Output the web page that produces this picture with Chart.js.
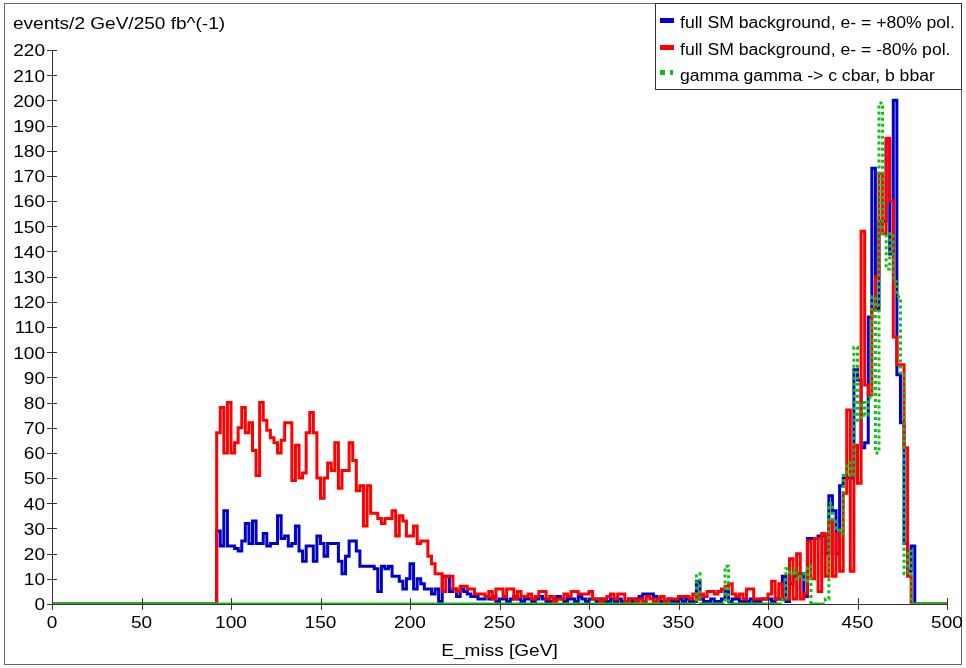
<!DOCTYPE html>
<html><head><meta charset="utf-8">
<script src="https://cdn.jsdelivr.net/npm/chart.js@4/dist/chart.umd.min.js"></script>
<style>html,body{margin:0;padding:0;background:#fff;}#wrap{width:966px;height:668px;}</style>
</head><body><div id="wrap"><canvas id="c" width="966" height="668"></canvas></div>
<script>
// ---- data ----
const binWidthGeV = 2;
const nBins = 250;
const xTickValues = [0, 50, 100, 150, 200, 250, 300, 350, 400, 450, 500];
const yTickValues = [0,10,20,30,40,50,60,70,80,90,100,110,120,130,140,150,160,170,180,190,200,210,220];
const yTitle = 'events/2 GeV/250 fb^(-1)';
const xTitle = 'E_miss [GeV]';
const seriesLabels = ['full SM background, e- = +80% pol.', 'full SM background, e- = -80% pol.', 'gamma gamma -> c cbar, b bbar'];

// counts per 2 GeV bin; bins before the first listed bin and after the last are 0
const blueFirstBin = 46;
const blueCounts = [
 29,23,37,23,23,22,21,25,32,24, 33,24,24,28,23,24,24,35,26,27,
 23,24,31,21,17,23,23,17,27,24, 19,24,24,24,17,12,19,25,25,21,
 15,15,15,15,14,5,15,14,15,11, 11,9,6,10,16,6,10,8,6,6,
 4,6,1,11,11,5,6,
 3,6,5,4,3,3,2,2,3,2, 3,1,2,2,1,2,3,2,1,2, 2,1,2,3,2,1,1,2,3,2,
 1,2,2,1,3,2,1,2,2,1, 2,1,1,2,1,2,1,1,2,1, 2,3,4,4,4,3,2,1,1,2,
 1,1,2,1,2,1,1,9,2,1, 1,2,1,1,2,5,1,2,2,1, 1,1,2,1,1,2,2,
 2,1,2,2,11,1,8,11,12,12, 3,26,26,26,27,27,20,43,37,20,
 47,50,50,50,93,89,62,64,114,173, 117,152,152,184,139,200,91,72,24,13,23
];
const redFirstBin = 46;
const redCounts = [
 68,78,60,80,60,64,70,78,68,72, 61,51,80,73,69,66,64,60,65,72,
 72,49,63,50,52,68,76,68,50,42, 50,56,53,64,46,53,53,64,57,45,
 47,31,47,36,36,34,32,34,34,37, 27,35,33,27,27,31,24,25,25,19,
 16,12,12,5,11,11,6,
 5,7,7,6,6,4,4,4,3,5, 2,6,6,3,6,6,2,5,3,3, 4,2,3,5,5,2,3,1,2,2,
 4,3,5,5,4,4,4,5,2,2, 1,2,3,4,2,4,4,1,2,2, 1,2,1,3,2,1,2,3,1,2,
 2,2,3,3,3,2,4,2,4,3, 5,5,4,5,6,7,8,4,3,
 4,2,6,6,2,2,2,2,
 4,9,2,8,2,2,18,2,20,2, 4,25,10,26,5,28,11,33,11,28,
 13,44,77,13,63,48,148,87,83,117, 130,171,147,185,160,106,95,95,62,11
];
const greenFirstBin = 180;
const greenCounts = [
 12,0,0,0,0,0,0,0,15,
 0,0,0,0,0,0,0,0,0,0,0,0,0,0,0,
 2,14,12,14,10,12,9,15,0,0,0,0,2,40,33,30,
 28,51,56,51,102,73,80,75,82,122,60,199,147,133,147,128,122,91,12,21,0
];

// ---- styling ----
const FONT = '16px "Liberation Sans", Arial, sans-serif';
const SX = 1.19;
const SX_LEGEND = 1.1;
const colors = ['#0000cc', '#ff0000', '#10c010'];

function toPoints(first, counts) {
  const full = new Array(nBins).fill(0);
  counts.forEach((v, k) => { full[first + k] = v; });
  const pts = full.map((v, i) => ({ x: i * binWidthGeV, y: v }));
  pts.push({ x: nBins * binWidthGeV, y: full[nBins - 1] });
  return pts;
}

function sText(ctx, text, x, y, align, baseline, sx) {
  ctx.save();
  ctx.font = FONT; ctx.fillStyle = '#000';
  ctx.textAlign = align; ctx.textBaseline = baseline;
  ctx.translate(x, y); ctx.scale(sx || SX, 1);
  ctx.fillText(text, 0, 0);
  ctx.restore();
}

const decor = {
  id: 'decor',
  afterDraw(chart) {
    const ctx = chart.ctx, xs = chart.scales.x, ys = chart.scales.y;
    const ca = chart.chartArea;
    ctx.save();
    ctx.strokeStyle = '#666'; ctx.lineWidth = 1;
    ctx.strokeRect(4.5, 3.5, 957, 661);
    ctx.strokeStyle = '#333'; ctx.lineWidth = 1;
    ctx.beginPath();
    yTickValues.forEach(v => {
      const py = Math.round(ys.getPixelForValue(v)) + 0.5;
      ctx.moveTo(ca.left - 5, py); ctx.lineTo(ca.left + 5, py);
    });
    xTickValues.forEach(v => {
      const px = Math.round(xs.getPixelForValue(v)) + 0.5;
      ctx.moveTo(px, ca.bottom - 6); ctx.lineTo(px, ca.bottom + 6);
    });
    ctx.stroke();
    ctx.restore();
    yTickValues.forEach(v => sText(ctx, String(v), ca.left - 7, ys.getPixelForValue(v) + 2, 'right', 'middle'));
    xTickValues.forEach(v => sText(ctx, String(v), xs.getPixelForValue(v), 628, 'center', 'alphabetic'));
    sText(ctx, yTitle, 13, 29, 'left', 'alphabetic');
    sText(ctx, xTitle, (ca.left + ca.right) / 2, 656, 'center', 'alphabetic');
    // legend
    ctx.save();
    ctx.fillStyle = '#fff'; ctx.fillRect(655, 3, 307, 87);
    ctx.strokeStyle = '#333'; ctx.lineWidth = 1; ctx.strokeRect(655.5, 3.5, 306, 86);
    const rows = [28, 55, 81];
    chart.data.datasets.forEach((ds, i) => {
      ctx.fillStyle = ds.borderColor;
      if (i < 2) {
        ctx.fillRect(660, rows[i] - 10, 14, 5);
      } else {
        ctx.fillRect(660, rows[i] - 11, 5, 5);
        ctx.fillRect(670, rows[i] - 11, 3, 5);
      }
      sText(ctx, ds.label, 680, rows[i], 'left', 'alphabetic', SX_LEGEND);
    });
    ctx.restore();
  }
};

const datasets = [
  { label: seriesLabels[0], data: toPoints(blueFirstBin, blueCounts), borderColor: colors[0], order: 2 },
  { label: seriesLabels[1], data: toPoints(redFirstBin, redCounts), borderColor: colors[1], order: 1 },
  { label: seriesLabels[2], data: toPoints(greenFirstBin, greenCounts), borderColor: colors[2], order: 0,
    segment: { borderDash: c => (c.p0.parsed.y === 0 && c.p1.parsed.y === 0) ? [] : [3, 3] } }
].map(d => Object.assign({ stepped: 'before', borderWidth: 3, pointRadius: 0, fill: false, tension: 0 }, d));

new Chart(document.getElementById('c'), {
  type: 'line',
  data: { datasets },
  options: {
    responsive: false, animation: false, devicePixelRatio: 1,
    layout: { padding: { top: 50, right: 19, left: 0, bottom: 0 } },
    plugins: { legend: { display: false }, tooltip: { enabled: false } },
    scales: {
      x: { type: 'linear', min: 0, max: 500, ticks: { stepSize: 50, display: false },
           grid: { display: false }, border: { display: true, color: '#333', width: 1 },
           afterFit: s => { s.height = 64; } },
      y: { type: 'linear', min: 0, max: 220, ticks: { stepSize: 10, display: false },
           grid: { display: false }, border: { display: true, color: '#333', width: 1 },
           afterFit: s => { s.width = 52; } }
    }
  },
  plugins: [decor]
});
</script></body></html>
